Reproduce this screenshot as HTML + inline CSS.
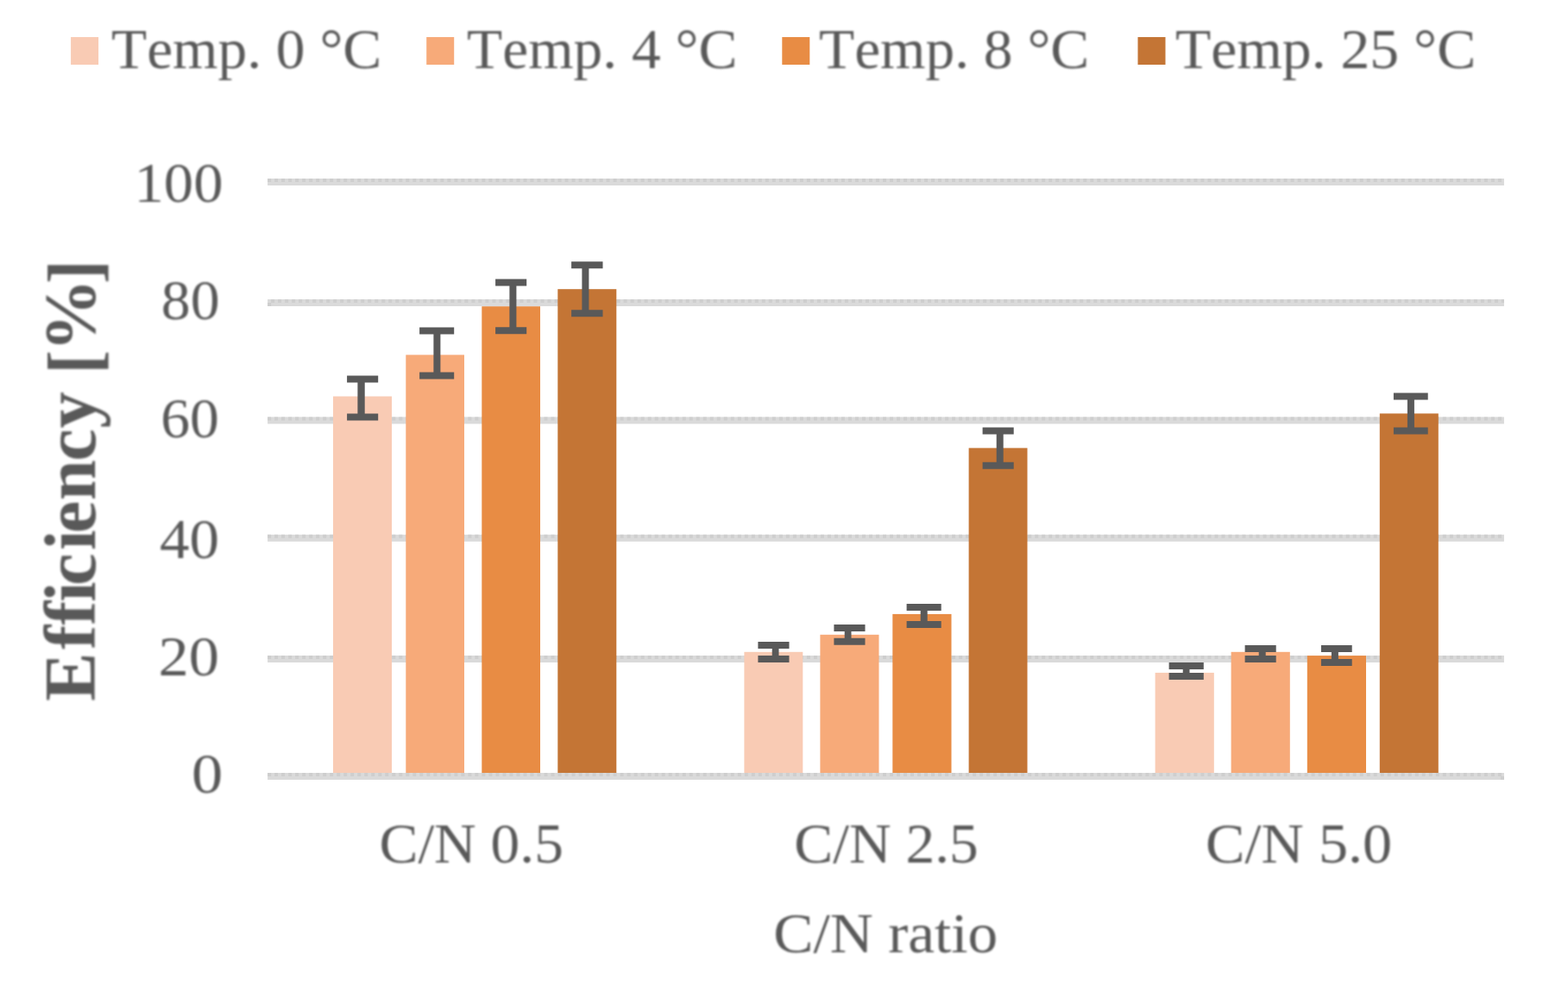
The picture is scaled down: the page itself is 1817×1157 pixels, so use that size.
<!DOCTYPE html>
<html lang="en">
<head>
<meta charset="utf-8">
<title>Efficiency vs C/N ratio</title>
<style>
html,body{margin:0;padding:0;background:#fff;}
body{width:1817px;height:1157px;overflow:hidden;}
svg{display:block;}
text{font-family:"Liberation Serif",serif;fill:#595959;font-kerning:none;font-variant-ligatures:none;}
#labels,#ytitle{filter:blur(0.8px);}
</style>
</head>
<body>
<svg width="1817" height="1157" viewBox="0 0 1817 1157">
<rect width="1817" height="1157" fill="#ffffff"/>
<g id="grid">
<rect x="310.1" y="207.0" width="1432.8" height="8" fill="#DADADA"/>
<line x1="310.1" y1="209.0" x2="1742.9" y2="209.0" stroke="#CECECE" stroke-width="4" stroke-dasharray="4 4.01"/>
<rect x="310.1" y="347.0" width="1432.8" height="8" fill="#DADADA"/>
<line x1="314.1" y1="349.0" x2="1742.9" y2="349.0" stroke="#CECECE" stroke-width="4" stroke-dasharray="4 4.01"/>
<rect x="310.1" y="483.4" width="1432.8" height="8" fill="#DADADA"/>
<line x1="310.1" y1="485.4" x2="1742.9" y2="485.4" stroke="#CECECE" stroke-width="4" stroke-dasharray="4 4.01"/>
<rect x="310.1" y="619.8" width="1432.8" height="8" fill="#DADADA"/>
<line x1="310.1" y1="621.8" x2="1742.9" y2="621.8" stroke="#CECECE" stroke-width="4" stroke-dasharray="4 4.01"/>
<rect x="310.1" y="760.0" width="1432.8" height="8" fill="#DADADA"/>
<line x1="310.1" y1="762.0" x2="1742.9" y2="762.0" stroke="#CECECE" stroke-width="4" stroke-dasharray="4 4.01"/>
<rect x="310.1" y="896.0" width="1432.8" height="8" fill="#DADADA"/>
<line x1="310.1" y1="898.0" x2="1742.9" y2="898.0" stroke="#CECECE" stroke-width="4" stroke-dasharray="4 4.01"/>
<rect x="310.1" y="351" width="4" height="4" fill="#CECECE"/>
<rect x="1738.9" y="900" width="4" height="4" fill="#CECECE"/>
</g>
<g id="bars">
<rect x="386.0" y="459.5" width="68.0" height="436.5" fill="#F9CBB4"/>
<rect x="470.3" y="411.4" width="67.7" height="484.6" fill="#F7AA79"/>
<rect x="558.3" y="355.2" width="67.7" height="540.8" fill="#E88C44"/>
<rect x="646.3" y="335.2" width="68.0" height="560.8" fill="#C47535"/>
<rect x="862.4" y="755.8" width="67.9" height="140.2" fill="#F9CBB4"/>
<rect x="950.4" y="735.8" width="68.1" height="160.2" fill="#F7AA79"/>
<rect x="1034.3" y="711.9" width="68.2" height="184.1" fill="#E88C44"/>
<rect x="1122.6" y="519.4" width="67.9" height="376.6" fill="#C47535"/>
<rect x="1338.6" y="779.9" width="68.2" height="116.1" fill="#F9CBB4"/>
<rect x="1426.6" y="755.8" width="68.2" height="140.2" fill="#F7AA79"/>
<rect x="1514.8" y="760.1" width="68.2" height="135.9" fill="#E88C44"/>
<rect x="1598.8" y="479.4" width="68.0" height="416.6" fill="#C47535"/>
</g>
<g id="errorbars" fill="#595959">
<path d="M402.1 435.4H438.2V443.4H422.7V479.6H438.2V487.6H402.1V479.6H414.4V443.4H402.1Z"/>
<path d="M486.1 379.5H526.2V387.5H510.4V431.4H526.2V439.4H486.1V431.4H502.4V387.5H486.1Z"/>
<path d="M574.1 323.4H610.2V331.4H598.4V379.3H610.2V387.3H574.1V379.3H590.4V331.4H574.1Z"/>
<path d="M662.1 303.3H698.5V311.3H682.4V359.2H698.5V367.2H662.1V359.2H674.4V311.3H662.1Z"/>
<path d="M878.4 744.0H914.5V752.0H902.5V759.9H914.5V767.9H878.4V759.9H894.7V752.0H878.4Z"/>
<path d="M966.4 724.0H1002.5V732.0H986.5V739.8H1002.5V747.8H966.4V739.8H978.7V732.0H966.4Z"/>
<path d="M1050.6 699.9H1090.7V707.9H1074.7V720.0H1090.7V728.0H1050.6V720.0H1066.7V707.9H1050.6Z"/>
<path d="M1138.6 495.6H1174.7V503.6H1162.7V535.7H1174.7V543.7H1138.6V535.7H1154.7V503.6H1138.6Z"/>
<path d="M1354.6 768.1H1394.8V776.1H1378.5V779.9H1394.8V787.9H1354.6V779.9H1370.7V776.1H1354.6Z"/>
<path d="M1442.6 748.0H1478.7V756.0H1466.7V759.9H1478.7V767.9H1442.6V759.9H1458.7V756.0H1442.6Z"/>
<path d="M1530.9 748.0H1566.7V756.0H1550.9V763.9H1566.7V771.9H1530.9V763.9H1542.9V756.0H1530.9Z"/>
<path d="M1614.9 455.6H1654.7V463.6H1638.9V495.5H1654.7V503.5H1614.9V495.5H1630.9V463.6H1614.9Z"/>
</g>
<g id="legend">
<rect x="82.1" y="43.0" width="32.0" height="32.0" fill="#F9CBB4"/>
<rect x="494.2" y="43.0" width="32.0" height="32.0" fill="#F7AA79"/>
<rect x="906.3" y="43.0" width="32.0" height="32.0" fill="#E88C44"/>
<rect x="1318.5" y="43.0" width="32.0" height="32.0" fill="#C47535"/>
</g>
<g id="labels" font-size="66.5">
<text transform="translate(128.99 78.60) scale(1.0135 1)">Temp. 0 °C</text>
<text transform="translate(541.09 78.60) scale(1.0135 1)">Temp. 4 °C</text>
<text transform="translate(948.99 78.60) scale(1.0135 1)">Temp. 8 °C</text>
<text transform="translate(1361.88 78.60) scale(1.0175 1)">Temp. 25 °C</text>
<text transform="translate(155.50 234.30) scale(1.0330 1)">100</text>
<text transform="translate(186.74 370.20) scale(1.0197 1)">80</text>
<text transform="translate(186.25 506.80) scale(1.0180 1)">60</text>
<text transform="translate(184.96 646.60) scale(1.0381 1)">40</text>
<text transform="translate(183.62 783.00) scale(1.0590 1)">20</text>
<text transform="translate(221.93 918.80) scale(1.0893 1)">0</text>
<text transform="translate(439.46 999.80) scale(1.0132 1)">C/N 0.5</text>
<text transform="translate(920.36 999.80) scale(1.0137 1)">C/N 2.5</text>
<text transform="translate(1397.12 999.80) scale(1.0259 1)">C/N 5.0</text>
<text transform="translate(896.27 1104.00) scale(1.0426 1)">C/N ratio</text>
</g>
<text id="ytitle" font-size="84.5" font-weight="bold" transform="translate(110.10 812.90) rotate(-90)" x="0 59.9 87.9 114.9 134.1 174.9 194.8 232.8 278.2 316.5">Efficiency <tspan x="379.1" dy="4">[</tspan><tspan x="405.2" dy="-4">%</tspan><tspan x="483.7" dy="4">]</tspan></text>
</svg>
</body>
</html>
